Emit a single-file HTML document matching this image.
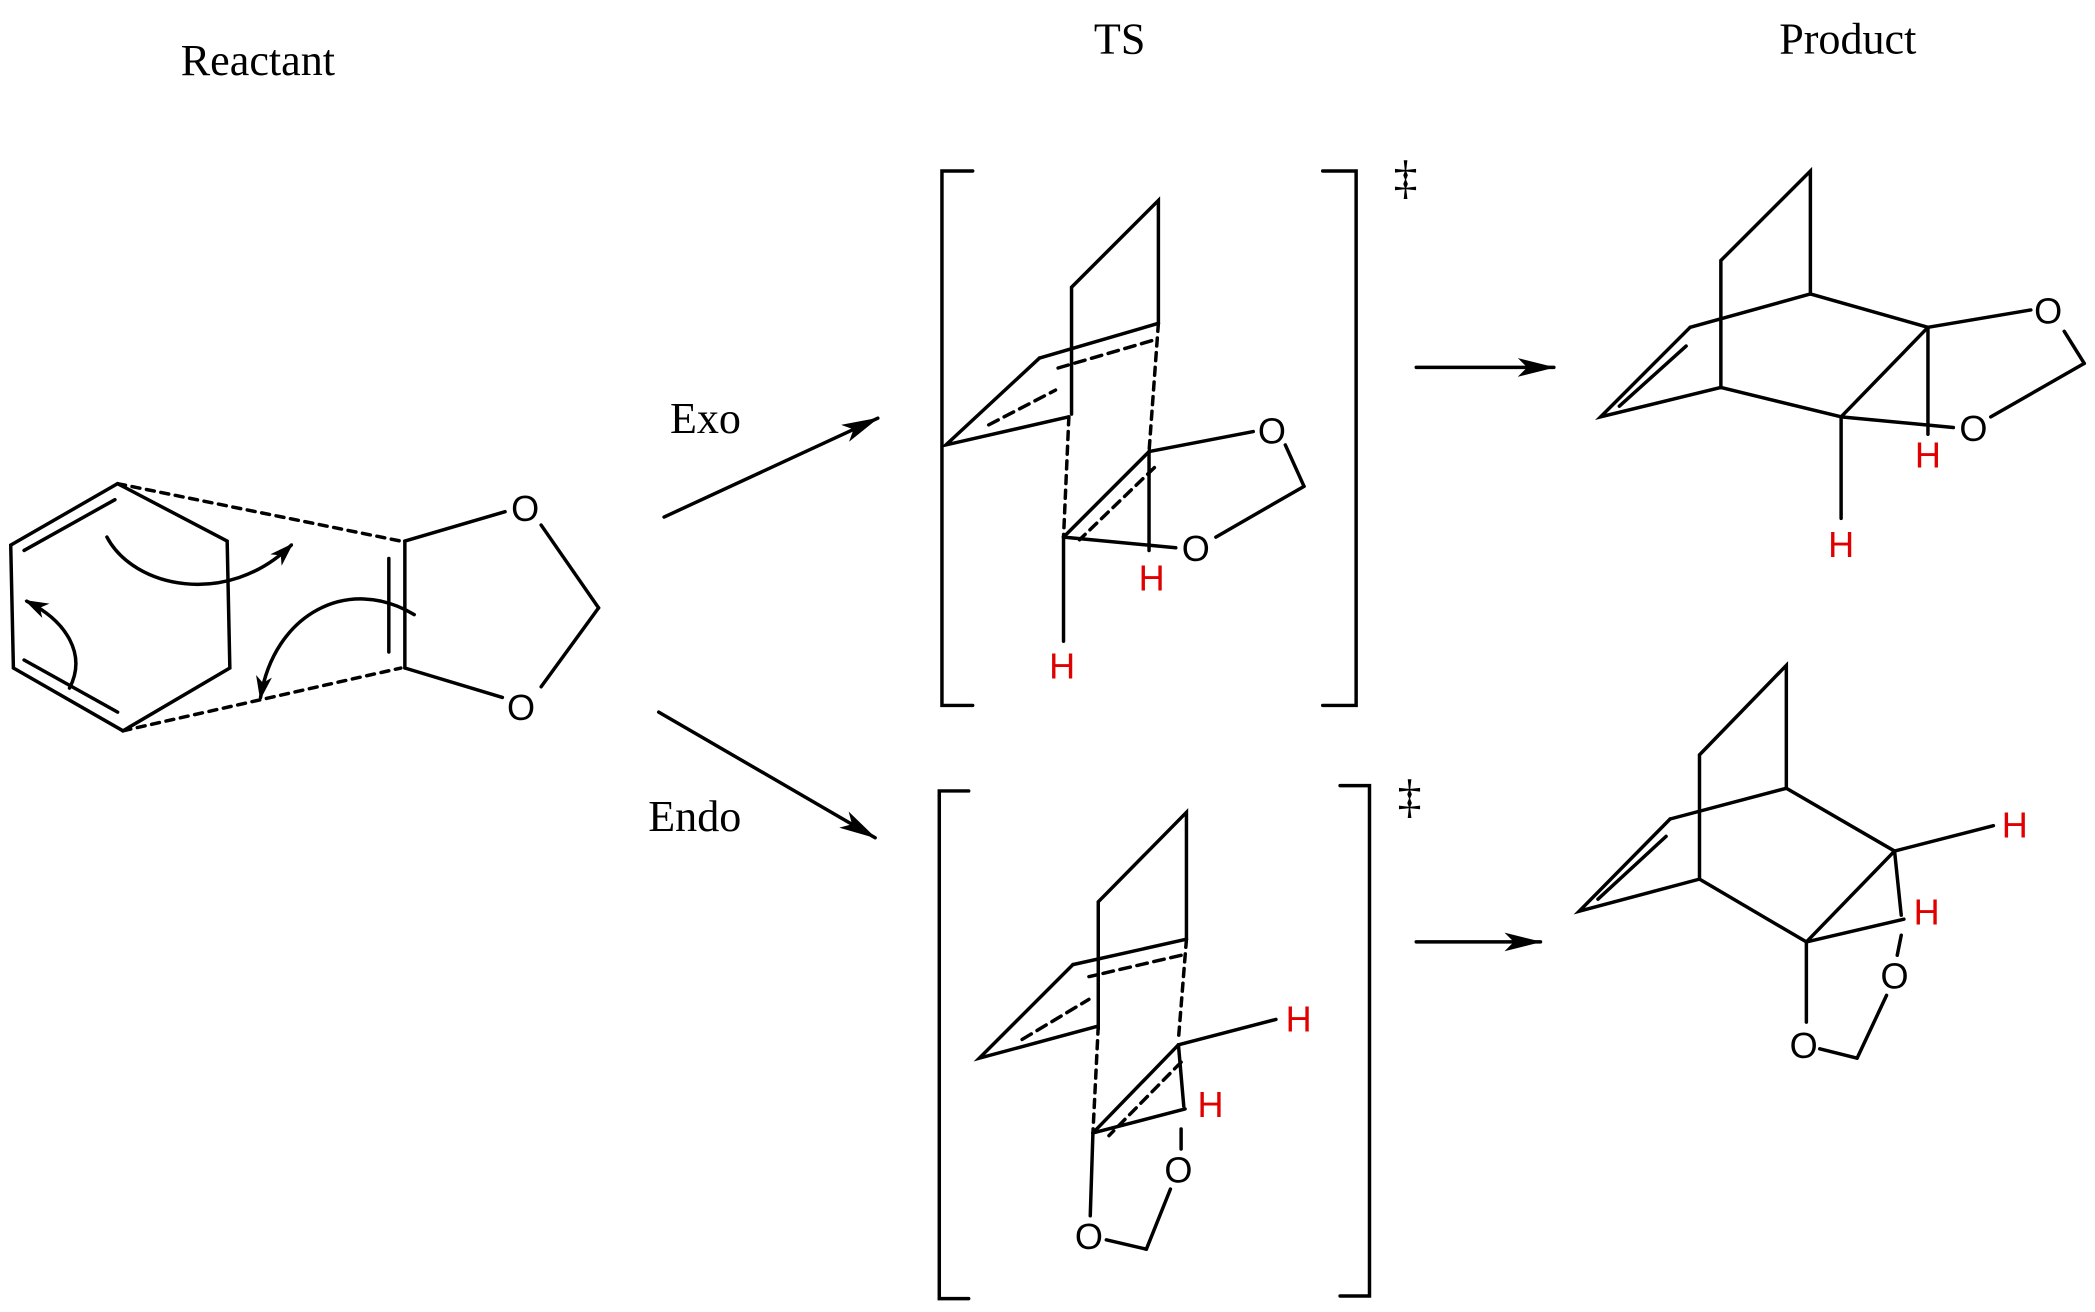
<!DOCTYPE html>
<html><head><meta charset="utf-8"><style>html,body{margin:0;padding:0;background:#fff}svg{display:block}</style></head>
<body>
<svg width="2095" height="1312" viewBox="0 0 1568 982" xmlns="http://www.w3.org/2000/svg">
<defs>
<marker id="ah" viewBox="0 0 28 14" refX="27" refY="7" markerWidth="28" markerHeight="14" markerUnits="userSpaceOnUse" orient="auto"><path d="M0,0 L28,7 L0,14 L7,7 z" fill="#000"/></marker>
<marker id="ah2" viewBox="0 0 18 12" refX="16" refY="6" markerWidth="18" markerHeight="12" markerUnits="userSpaceOnUse" orient="auto"><path d="M0,0 L18,6 L0,12 L5,6 z" fill="#000"/></marker>
</defs>
<g font-family="Liberation Serif, serif" font-size="33" text-anchor="middle" fill="#000">
<text x="193" y="56">Reactant</text><text x="838" y="40">TS</text><text x="1383" y="40">Product</text>
<text x="528" y="324">Exo</text><text x="520" y="622">Endo</text>
<text x="1052" y="145" font-size="36">‡</text><text x="1055" y="608" font-size="36">‡</text>
</g>
<g stroke="#000" stroke-width="2.6" fill="none" stroke-linecap="round">
<polyline points="88,362 170,405 172,500 92,547 10,500 8,408 88,362"/>
<line x1="18" y1="412" x2="86" y2="374"/><line x1="18" y1="494" x2="88" y2="533"/>
<line x1="88" y1="362" x2="300" y2="405" stroke-dasharray="6,5"/>
<line x1="92" y1="547" x2="300" y2="500" stroke-dasharray="6,5"/>
<line x1="303" y1="405" x2="303" y2="500"/><line x1="291" y1="418" x2="291" y2="488"/>
<line x1="303" y1="405" x2="378" y2="383"/><line x1="405" y1="393" x2="448" y2="455"/>
<line x1="448" y1="455" x2="405" y2="514"/><line x1="303" y1="500" x2="376" y2="522"/>
<path d="M80,402 C100,440 170,455 218,408" marker-end="url(#ah2)"/>
<path d="M310,460 C260,430 205,460 195,522" marker-end="url(#ah2)"/>
<path d="M52,515 C65,490 50,465 20,450" marker-end="url(#ah2)"/>
<line x1="497" y1="387" x2="657" y2="313" marker-end="url(#ah)"/>
<line x1="493" y1="533" x2="655" y2="627" marker-end="url(#ah)"/>
<line x1="1060" y1="275" x2="1163" y2="275" marker-end="url(#ah)"/>
<line x1="1060" y1="705" x2="1153" y2="705" marker-end="url(#ah)"/>
<polyline points="728,128 705,128 705,528 728,528"/><polyline points="990,128 1015,128 1015,528 990,528"/>
<polyline points="725,592 703,592 703,972 725,972"/><polyline points="1003,588 1025,588 1025,970 1003,970"/>
<polyline points="802,310 802,215 867,150 867,242"/>
<line x1="867" y1="242" x2="778" y2="268"/><line x1="862" y1="255" x2="790" y2="276" stroke-dasharray="8,5"/>
<polyline points="778,268 708,333 800,312"/><line x1="740" y1="318" x2="790" y2="292" stroke-dasharray="8,5"/>
<line x1="800" y1="312" x2="796" y2="402" stroke-dasharray="6,5"/>
<line x1="867" y1="242" x2="860" y2="338" stroke-dasharray="6,5"/>
<line x1="860" y1="338" x2="796" y2="402"/><line x1="864" y1="350" x2="808" y2="404" stroke-dasharray="7,5"/>
<line x1="860" y1="338" x2="938" y2="323"/><line x1="962" y1="333" x2="976" y2="364"/><line x1="976" y1="364" x2="910" y2="402"/>
<line x1="796" y1="402" x2="880" y2="410"/><line x1="860" y1="338" x2="860" y2="412"/>
<line x1="796" y1="402" x2="796" y2="480"/>
<polyline points="1288,290 1288,195 1355,128 1355,220"/>
<line x1="1355" y1="220" x2="1265" y2="245"/><polyline points="1265,245 1198,312 1288,290"/>
<line x1="1212" y1="304" x2="1262" y2="259"/>
<line x1="1355" y1="220" x2="1443" y2="245"/><line x1="1288" y1="290" x2="1378" y2="312"/>
<line x1="1378" y1="312" x2="1443" y2="245"/><line x1="1443" y1="245" x2="1520" y2="232"/>
<line x1="1545" y1="248" x2="1560" y2="272"/><line x1="1560" y1="272" x2="1490" y2="312"/>
<line x1="1443" y1="245" x2="1443" y2="325"/><line x1="1378" y1="312" x2="1462" y2="320"/>
<line x1="1378" y1="312" x2="1378" y2="388"/>
<polyline points="822,770 822,675 888,608 888,703"/>
<line x1="888" y1="703" x2="803" y2="722"/><line x1="884" y1="715" x2="815" y2="731" stroke-dasharray="8,5"/>
<polyline points="803,722 733,792 822,768"/><line x1="765" y1="778" x2="815" y2="748" stroke-dasharray="8,5"/>
<line x1="822" y1="768" x2="818" y2="848" stroke-dasharray="6,5"/>
<line x1="888" y1="703" x2="882" y2="778" stroke-dasharray="6,5"/>
<line x1="882" y1="782" x2="818" y2="848"/><line x1="884" y1="795" x2="830" y2="850" stroke-dasharray="7,5"/>
<line x1="882" y1="782" x2="955" y2="763"/><line x1="882" y1="782" x2="886" y2="828"/>
<line x1="818" y1="848" x2="887" y2="830"/><line x1="884" y1="845" x2="884" y2="860"/>
<line x1="876" y1="890" x2="858" y2="935"/><line x1="858" y1="935" x2="828" y2="928"/>
<line x1="818" y1="848" x2="816" y2="910"/>
<polyline points="1272,658 1272,565 1337,498 1337,590"/>
<line x1="1337" y1="590" x2="1250" y2="613"/><polyline points="1250,613 1182,682 1272,658"/>
<line x1="1196" y1="673" x2="1247" y2="626"/>
<line x1="1337" y1="590" x2="1418" y2="637"/><line x1="1272" y1="658" x2="1352" y2="705"/>
<line x1="1352" y1="705" x2="1418" y2="637"/><line x1="1418" y1="637" x2="1492" y2="618"/>
<line x1="1418" y1="637" x2="1423" y2="685"/><line x1="1352" y1="705" x2="1425" y2="688"/>
<line x1="1423" y1="700" x2="1420" y2="715"/><line x1="1412" y1="745" x2="1390" y2="792"/>
<line x1="1390" y1="792" x2="1362" y2="785"/><line x1="1352" y1="705" x2="1352" y2="765"/>
</g>
<g font-family="Liberation Sans, sans-serif" font-size="27" text-anchor="middle">
<text x="393" y="390">O</text><text x="390" y="539">O</text>
<text x="952" y="332">O</text><text x="895" y="420">O</text>
<text x="1533" y="242">O</text><text x="1477" y="330">O</text>
<text x="882" y="885">O</text><text x="815" y="935">O</text>
<text x="1418" y="740">O</text><text x="1350" y="792">O</text>
<g fill="#e00000">
<text x="795" y="508">H</text><text x="862" y="442">H</text>
<text x="1443" y="350">H</text><text x="1378" y="417">H</text>
<text x="972" y="772">H</text><text x="906" y="836">H</text>
<text x="1508" y="627">H</text><text x="1442" y="692">H</text>
</g></g>
</svg>
</body></html>
